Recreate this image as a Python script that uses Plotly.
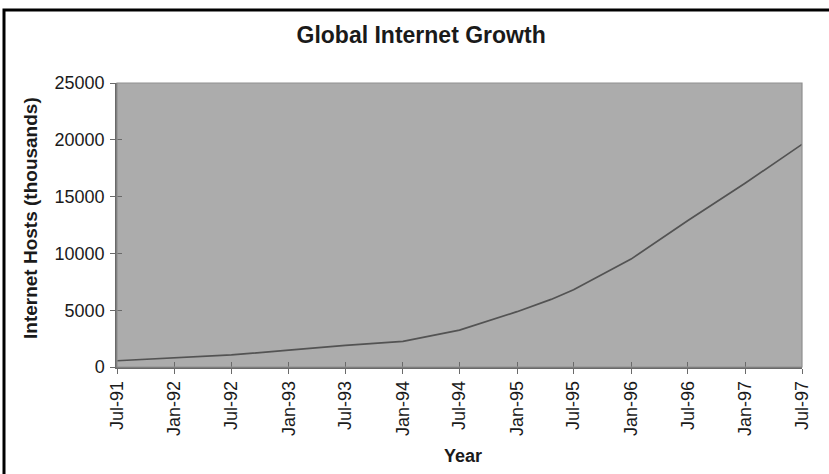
import plotly.graph_objects as go

# Survey dates and Internet host counts (thousands)
survey_dates = [
    "1991-07-01", "1992-01-01", "1992-07-01", "1993-01-01", "1993-07-01",
    "1994-01-01", "1994-07-01", "1995-01-01", "1995-04-20", "1995-07-01",
    "1996-01-01", "1996-07-01", "1997-01-01", "1997-07-01",
]
hosts_thousands = [
    550, 780, 1060, 1480, 1900,
    2250, 3250, 4870, 5950, 6800,
    9500, 12900, 16200, 19600,
]

# Half-yearly axis ticks
tick_dates = [
    "1991-07-01", "1992-01-01", "1992-07-01", "1993-01-01", "1993-07-01",
    "1994-01-01", "1994-07-01", "1995-01-01", "1995-07-01", "1996-01-01",
    "1996-07-01", "1997-01-01", "1997-07-01",
]
tick_labels = [
    "Jul-91", "Jan-92", "Jul-92", "Jan-93", "Jul-93", "Jan-94", "Jul-94",
    "Jan-95", "Jul-95", "Jan-96", "Jul-96", "Jan-97", "Jul-97",
]
y_ticks = [0, 5000, 10000, 15000, 20000, 25000]

FONT = "Liberation Sans, Arial, sans-serif"
W, H = 829, 474
ML, MR, MT, MB = 117, 27, 83, 107
PW, PH = W - ML - MR, H - MT - MB


def px_x(px):
    return (px - ML) / PW


def px_y(py):
    return (H - MB - py) / PH


fig = go.Figure()
fig.add_trace(go.Scatter(
    x=survey_dates, y=hosts_thousands, mode="lines",
    line=dict(color="#535353", width=1.7),
    hoverinfo="x+y", showlegend=False,
))
# empty trace carrying the overlay axes for the inner half of the tick marks
fig.add_trace(go.Scatter(x=[], y=[], xaxis="x2", yaxis="y2", showlegend=False))

axis_common = dict(showgrid=False, zeroline=False, linecolor="#6a6a6a", linewidth=1.5,
                   tickcolor="#6a6a6a", tickwidth=1.2, ticklen=5, ticks="outside",
                   tickfont=dict(family=FONT, size=18, color="#1a1a1a"))

fig.update_layout(
    width=W, height=H,
    margin=dict(l=ML, r=MR, t=MT, b=MB),
    paper_bgcolor="white", plot_bgcolor="#acacac",
    title=dict(text="<b>Global Internet Growth</b>", x=0.508, xanchor="center",
               y=(H - 35) / H, yanchor="middle",
               font=dict(family=FONT, size=23, color="#1a1a1a")),
    xaxis=dict(type="date", range=[tick_dates[0], tick_dates[-1]],
               tickmode="array", tickvals=tick_dates, ticktext=tick_labels,
               tickangle=-90, ticklabelstandoff=0, **axis_common),
    yaxis=dict(range=[0, 25000], tickmode="array", tickvals=y_ticks,
               ticktext=[str(v) for v in y_ticks], ticklabelstandoff=2,
               **axis_common),
    xaxis2=dict(type="date", range=[tick_dates[0], tick_dates[-1]], overlaying="x",
                tickmode="array", tickvals=tick_dates, showticklabels=False,
                ticks="inside", ticklen=5, tickcolor="#6a6a6a", tickwidth=1.2,
                showgrid=False, zeroline=False, showline=False, anchor="y2"),
    yaxis2=dict(range=[0, 25000], overlaying="y", tickmode="array", tickvals=y_ticks,
                showticklabels=False, ticks="inside", ticklen=5, tickcolor="#6a6a6a",
                tickwidth=1.2, showgrid=False, zeroline=False, showline=False,
                anchor="x2"),
    annotations=[
        dict(text="<b>Internet Hosts (thousands)</b>", textangle=-90,
             xref="paper", yref="paper", x=px_x(30), y=px_y(218),
             xanchor="center", yanchor="middle", showarrow=False,
             font=dict(family=FONT, size=19, color="#1a1a1a")),
        dict(text="<b>Year</b>", xref="paper", yref="paper",
             x=px_x(463), y=px_y(456), xanchor="center", yanchor="middle",
             showarrow=False, font=dict(family=FONT, size=18, color="#1a1a1a")),
    ],
    shapes=[
        # light border around the plotting area
        dict(type="rect", xref="paper", yref="paper", x0=0, y0=0, x1=1, y1=1,
             line=dict(color="#8f8f8f", width=1.2), layer="above"),
        # outer frame
        dict(type="rect", xref="paper", yref="paper",
             x0=px_x(4), y0=px_y(H + 40), x1=px_x(W + 40), y1=px_y(10),
             line=dict(color="black", width=3), layer="above"),
    ],
)

fig.write_html("out.html")
